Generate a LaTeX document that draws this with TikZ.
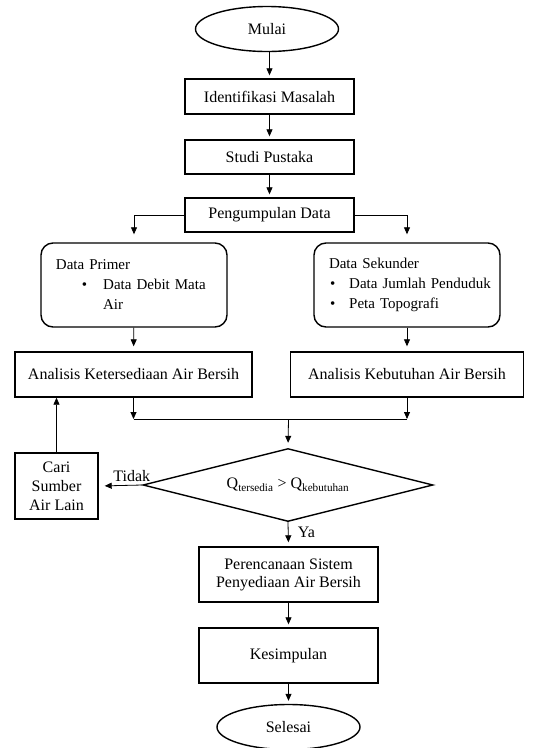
\documentclass[tikz,border=0pt]{standalone}
\usepackage{fontspec}
\setmainfont{Liberation Serif}
\usetikzlibrary{arrows.meta,positioning,shapes.geometric}
\hyphenpenalty=10000

\begin{document}
\begin{tikzpicture}[x=1pt,y=-1pt,
    font=\fontsize{16}{19}\selectfont,
    box/.style={draw,line width=1.4pt,align=center,inner sep=2pt},
    roundbox/.style={draw,line width=1.4pt,rounded corners=12pt,minimum width=186pt,
      minimum height=84pt,text width=180pt,align=left,inner xsep=0pt,
      font=\fontsize{15}{20}\selectfont},
    terminal/.style={draw,ellipse,line width=1.4pt,minimum width=143pt,minimum height=45pt},
    decision/.style={draw,diamond,aspect=4,line width=1.4pt,minimum width=290pt,
      minimum height=73pt,inner sep=0pt},
    flow/.style={-{Triangle[length=7pt,width=6pt]},line width=0.8pt,shorten >=3pt}]

  \useasboundingbox (0,0) rectangle (542,748);

  % main column, top
  \node[terminal] (mulai) at (267,29) {Mulai};
  \node[box,minimum width=169pt,minimum height=35pt] (ident) at (269.5,96.5) {Identifikasi Masalah};
  \node[box,minimum width=169pt,minimum height=34pt] (studi) at (269.5,157) {Studi Pustaka};
  \node[box,minimum width=169pt,minimum height=34pt] (kumpul) at (269.5,215) {Pengumpulan Data};

  % two data branches
  \node[roundbox] (primer) at (134,285)
    {\hspace*{12pt}Data Primer\\
     \hspace*{38pt}\textbullet\hspace{16pt}Data Debit Mata\\
     \hspace*{59pt}Air};
  \node[roundbox] (sekunder) at (407,285)
    {\hspace*{12pt}Data Sekunder\\
     \hspace*{13pt}\textbullet\hspace{14pt}Data Jumlah Penduduk\\
     \hspace*{13pt}\textbullet\hspace{14pt}Peta Topografi};
  \node[box,minimum width=237pt,minimum height=45pt] (sedia) at (133.5,374.5) {Analisis Ketersediaan Air Bersih};
  \node[box,minimum width=233pt,minimum height=45pt] (butuh) at (407,374.5) {Analisis Kebutuhan Air Bersih};

  % join line
  \coordinate (jl) at (133.5,419);
  \coordinate (jr) at (407,419);
  \coordinate (jm) at (288.5,419);

  % decision and loop back
  \node[decision] (cek) at (288,485) {Q\textsubscript{tersedia} > Q\textsubscript{kebutuhan}};
  \node[box,minimum width=83pt,minimum height=66pt] (cari) at (56.5,486) {Cari\\Sumber\\Air Lain};

  % main column, bottom
  \node[box,minimum width=179pt,minimum height=55pt,font=\fontsize{16}{18}\selectfont] (rencana) at (288.5,574.5)
    {Perencanaan Sistem\\Penyediaan Air Bersih};
  \node[box,minimum width=179pt,minimum height=55pt] (simpul) at (288.5,655.5) {Kesimpulan};
  \node[terminal] (selesai) at (288.5,727) {Selesai};

  % connectors
  \draw[flow] (mulai.south -| ident) -- (ident);
  \draw[flow] (ident) -- (studi);
  \draw[flow] (studi) -- (kumpul);
  \draw[flow,shorten >=8pt] (kumpul.west) -| (primer.north);
  \draw[flow,shorten >=8pt] (kumpul.east) -| (sekunder.north);
  \draw[flow,shorten >=5pt] (primer) -- (sedia);
  \draw[flow,shorten >=5pt] (sekunder) -- (butuh);
  \draw[flow,shorten >=0pt] (sedia.south) -- (jl);
  \draw[flow,shorten >=0pt] (butuh.south) -- (jr);
  \draw[line width=0.8pt] (jl) -- (jr);
  \draw[flow,shorten >=5pt] (jm) -- (cek.north);
  \draw[flow,shorten >=6pt] (cek.west) -- node[above=0pt,pos=0.24] (tidak) {Tidak} (cari.east);
  \draw[flow,shorten >=0pt] (cari.north) -- (cari.north |- sedia.south);
  \draw[flow,shorten >=4pt] (cek.south) -- node[right=6pt,pos=0.4] (ya) {Ya} (rencana.north);
  \draw[flow] (rencana) -- (simpul);
  \draw[flow] (simpul) -- (selesai);
\end{tikzpicture}
\end{document}
